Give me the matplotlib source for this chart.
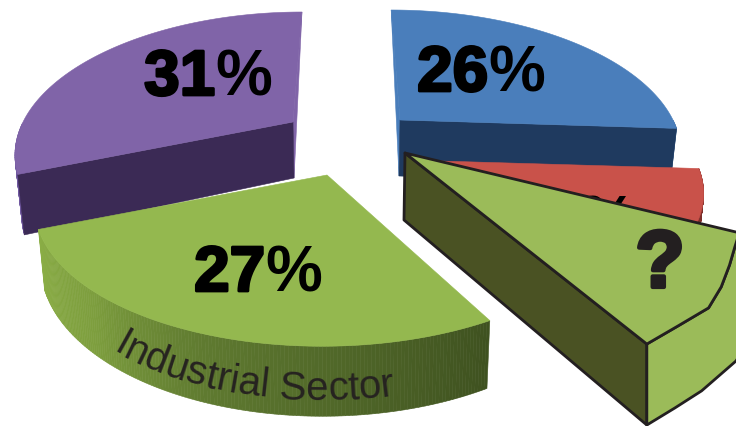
"""Exploded 3D pie of energy use by sector, with one slice left as a question."""
import numpy as np
import matplotlib
matplotlib.use("Agg")
import matplotlib.pyplot as plt
import matplotlib.patheffects as pe
from matplotlib.colors import LinearSegmentedColormap
from matplotlib.font_manager import FontProperties
from matplotlib.patches import Polygon

# slice shares, clockwise from twelve o'clock
names = ["blue", "red", "query", "green", "purple"]
shares = [26, 7, 9, 27, 31]
labels = ["26%", "7%", "?", "27%", "31%"]
rim_caption = "Industrial Sector"

W, H = 736, 426
VANISH_X = 347   # horizontal vanishing point of the perspective
PERSP = 0.2
DEPTH = 56
BOTTOM_SHRINK = 0.98
OUTLINE = "#231f20"

# where each exploded slice sits and how it is shaded
layout = {
    "blue": dict(apex=(400, 120), rx=273, ry=132, top="#4a7ebb", rim="#3a6699",
                 side="#1f3a5f", cut="end"),
    "red": dict(apex=(405, 160), rx=290, ry=134, top="#c9524a", rim="#7d2f2b",
                side="#7d2f2b", cut=None),
    "green": dict(apex=(327, 175), rx=286, ry=137, top="#94b84f", rim=None,
                  side=None, cut=None),
    "purple": dict(apex=(293, 122), rx=270, ry=132, top="#8064a8", rim="#7058a0",
                   side="#3b2a55", cut="start"),
}
label_pos = {"blue": (481, 74), "red": (590, 225), "green": (258, 274), "purple": (208, 78)}

# the pulled-out slice is hand-shaped: rim radius as a fraction of its ellipse
QUERY_APEX = (405, 153)
QUERY_RX, QUERY_RY = 502, 218
rim_top_deg = [-61.2, -55.6, -49.6, -44.3, -38.5, -33.3, -28.8]
rim_top_r = [1.0, 0.962, 0.933, 0.88, 0.826, 0.786, 0.76]
rim_low_deg = [-61.2, -56.0, -50.6, -41.5, -35.0]
rim_low_r = [1.0, 0.962, 0.931, 0.88, 0.84]
QUERY_DEPTH_APEX, QUERY_DEPTH_RIM = 67, 81

# runs from the dark right end of the rim to the lit left end
rim_cmap = LinearSegmentedColormap.from_list(
    "green_rim", ["#3f5220", "#4f6628", "#5f7a30", "#7d9e3e", "#8aad45"])

spans = {}
start = 90.0
for name, share in zip(names, shares):
    spans[name] = (start, start - 3.6 * share)
    start -= 3.6 * share


def project(theta, cfg, r=1.0):
    t = np.radians(theta)
    X, Y = r * np.cos(t), r * np.sin(t)
    p = 1 / (1 + PERSP * Y)
    ax_, ay_ = cfg["apex"]
    sx = VANISH_X + (ax_ - VANISH_X + cfg["rx"] * X) * p
    sy = ay_ - cfg["ry"] * Y * p
    return sx, sy, p


def drop(sx, sy, p):
    return VANISH_X + (sx - VANISH_X) * BOTTOM_SHRINK, sy + DEPTH * p


fig = plt.figure(figsize=(W / 100, H / 100), dpi=100)
ax = fig.add_axes([0, 0, 1, 1])
ax.set_xlim(0, W)
ax.set_ylim(H, 0)
ax.axis("off")


def draw_slice(name, z):
    cfg = layout[name]
    t0, t1 = spans[name]
    thetas = np.linspace(t0, t1, 160)
    front = thetas[np.sin(np.radians(thetas)) <= 0.001]
    # outer rim, only the part facing the viewer
    for i in range(len(front) - 1):
        a = project(front[i], cfg)
        b = project(front[i + 1], cfg)
        quad = [a[:2], b[:2], drop(*b), drop(*a)]
        if cfg["rim"] is None:
            col = rim_cmap(i / (len(front) - 2))
        else:
            col = cfg["rim"]
        ax.add_patch(Polygon(quad, fc=col, ec=col, lw=0.4, zorder=z))
    # radial cut face, plus the thin sliver of the far cut beside it
    if cfg["cut"]:
        edge = t1 if cfg["cut"] == "end" else t0
        far = t0 if cfg["cut"] == "end" else t1
        rim = project(edge, cfg)
        apex = project(0, cfg, r=0)
        back = project(far, cfg)
        ax.add_patch(Polygon([back[:2], drop(*apex), apex[:2]], fc=cfg["top"], ec=cfg["top"],
                             lw=0.4, zorder=z))
        quad = [apex[:2], rim[:2], drop(*rim), drop(*apex)]
        ax.add_patch(Polygon(quad, fc=cfg["side"], ec=cfg["side"], lw=0.4, zorder=z + 0.1))
    # top face
    xs, ys, _ = project(thetas, cfg)
    pts = [cfg["apex"]] + list(zip(xs, ys))
    ax.add_patch(Polygon(pts, fc=cfg["top"], ec=cfg["top"], lw=0.4, zorder=z + 0.2))


def big_label(s, x, y, size, z, color="black", heft=2.0):
    # digits are set heavier than the percent sign
    digits = s.rstrip("%")
    sign = s[len(digits):]
    prop = FontProperties(family="Liberation Sans", weight="bold", size=size)
    rend = fig.canvas.get_renderer()
    w_d = rend.get_text_width_height_descent(digits, prop, False)[0]
    w_s = rend.get_text_width_height_descent(sign, prop, False)[0] if sign else 0.0
    left = x - (w_d + w_s) / 2
    ax.text(left, y, digits, fontproperties=prop, color=color, ha="left", va="center",
            zorder=z, path_effects=[pe.withStroke(linewidth=heft, foreground=color)])
    if sign:
        ax.text(left + w_d, y, sign, fontproperties=prop, color=color, ha="left", va="center",
                zorder=z)


def draw_query(z):
    ax_, ay_ = QUERY_APEX

    def point(theta, r):
        t = np.radians(theta)
        return ax_ + QUERY_RX * r * np.cos(t), ay_ - QUERY_RY * r * np.sin(t)

    top_rim = [point(a, r) for a, r in zip(rim_top_deg, rim_top_r)]
    low_rim = [point(a, r) for a, r in zip(rim_low_deg, rim_low_r)]
    low_rim = [(x, y + QUERY_DEPTH_RIM) for x, y in low_rim]
    style = dict(ec=OUTLINE, lw=2.0, joinstyle="round")

    near = top_rim[0]
    near_low = (near[0], near[1] + QUERY_DEPTH_RIM)
    apex_low = (ax_ - 1, ay_ + QUERY_DEPTH_APEX)
    # left side wall, outer rim, then the top face over both
    ax.add_patch(Polygon([QUERY_APEX, near, near_low, apex_low], fc="#4a5223", zorder=z, **style))
    ax.add_patch(Polygon(top_rim + low_rim[::-1], fc="#9bbb59", zorder=z + 0.1, **style))
    ax.add_patch(Polygon([QUERY_APEX] + top_rim, fc="#9bbb59", zorder=z + 0.2, **style))


def curved_caption(text, z):
    cfg = layout["green"]
    thetas = np.linspace(230.5, 300, 300)
    sx, sy, p = project(thetas, cfg)
    sy = sy + 0.77 * DEPTH * p
    sx = VANISH_X + (sx - VANISH_X) * (1 - 0.77 * (1 - BOTTOM_SHRINK))
    arc = np.concatenate([[0], np.cumsum(np.hypot(np.diff(sx), np.diff(sy)))])
    prop = FontProperties(family="Liberation Sans", size=29)
    rend = fig.canvas.get_renderer()
    for i, ch in enumerate(text):
        if ch == " ":
            continue
        adv = rend.get_text_width_height_descent(text[:i], prop, False)[0] if i else 0.0
        wid = rend.get_text_width_height_descent(ch, prop, False)[0]
        mid = adv + wid / 2
        x = np.interp(mid, arc, sx)
        y = np.interp(mid, arc, sy)
        dx = np.interp(mid + 2, arc, sx) - np.interp(mid - 2, arc, sx)
        dy = np.interp(mid + 2, arc, sy) - np.interp(mid - 2, arc, sy)
        angle = -np.degrees(np.arctan2(dy, dx))
        ax.text(x, y, ch, fontproperties=prop, color="#262320", rotation=angle,
                rotation_mode="anchor", ha="center", va="baseline", zorder=z)


draw_slice("blue", 1)
draw_slice("red", 2)
draw_slice("purple", 3)
draw_slice("green", 4)

for name, label in zip(names, labels):
    if name in label_pos:
        big_label(label, *label_pos[name], 46, 5)

curved_caption(rim_caption, 5)
draw_query(6)
big_label(labels[names.index("query")], 660, 266, 58, 7, color=OUTLINE, heft=3.0)

fig.savefig("out.png", dpi=100)
